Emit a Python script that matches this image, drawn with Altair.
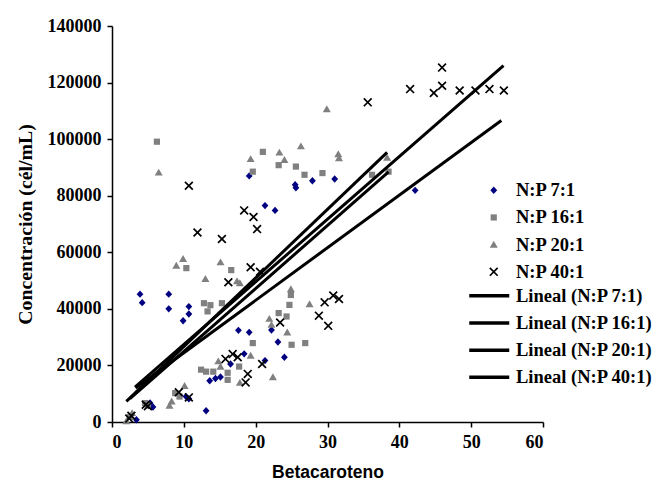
import altair as alt
import pandas as pd

# Series names and marker styling
series_names = ["N:P 7:1", "N:P 16:1", "N:P 20:1", "N:P 40:1"]
series_colors = ["#000080", "#808080", "#808080", "#000000"]

# Marker outlines (custom symbol paths, drawn filled)
diamond_path = "M0,-0.74L0.68,0L0,0.74L-0.68,0Z"
square_path = "M-0.62,-0.62L0.62,-0.62L0.62,0.62L-0.62,0.62Z"
triangle_path = "M0,-0.76L0.8,0.62L-0.8,0.62Z"
cross_path = "M-0.9,-0.66L-0.66,-0.9L0.9,0.66L0.66,0.9ZM0.9,-0.66L-0.66,0.9L-0.9,0.66L0.66,-0.9Z"
series_shapes = [diamond_path, square_path, triangle_path, cross_path]

# Legend sample for the trend lines: a long horizontal stroke
trend_symbol = "M-4,0L4,0"

# N:P 7:1
np7_x = [3.4, 3.9, 4.2, 5.3, 5.7, 7.9, 7.9, 9.9, 10.7, 10.7, 10.3, 10.7, 13.1, 13.6,
         14.4, 15.1, 16.5, 17.6, 18.4, 19.1, 19.1, 21.3, 21.3, 22.2, 22.7, 23.1, 24.0,
         25.5, 25.6, 27.9, 31.0, 42.2]
np7_y = [800, 45200, 42200, 6700, 5300, 45200, 40000, 35800, 40800, 38200, 9000, 8200,
         4000, 14600, 15400, 15900, 20500, 32400, 24100, 31700, 87000, 21700, 76500,
         32500, 74800, 28300, 22900, 83900, 82800, 85300, 85900, 81900]

# N:P 16:1
np16_x = [2.5, 4.6, 5.0, 6.25, 8.8, 9.4, 10.35, 12.4, 12.8, 13.1, 13.3, 13.7, 14.1,
          15.3, 16.1, 16.1, 16.6, 17.7, 19.6, 19.6, 21.0, 23.2, 23.2, 24.3, 24.7, 24.9,
          25.0, 25.6, 26.8, 26.9, 29.3, 36.2, 38.5]
np16_y = [1800, 6700, 5800, 99100, 10200, 9000, 54400, 18500, 42000, 17800, 39100,
          41300, 17800, 42000, 17400, 14900, 53700, 19600, 27900, 88500, 95500, 38500,
          90800, 37300, 41400, 44900, 27300, 90300, 87400, 27900, 88000, 87400, 88500]

# N:P 20:1
np20_x = [2.0, 2.8, 8.0, 8.3, 8.95, 9.9, 10.1, 6.5, 13.0, 14.8, 15.1, 15.1, 17.4, 17.8,
          17.8, 19.3, 19.3, 21.9, 22.2, 22.4, 23.3, 24.0, 24.4, 24.9, 26.3, 27.5, 29.9,
          31.5, 31.6, 38.3]
np20_y = [300, 3200, 5800, 7300, 55300, 57700, 12800, 88200, 50600, 21500, 19600,
          56500, 49800, 49100, 13900, 23500, 93000, 36500, 34400, 15900, 95300, 92700,
          31700, 47000, 97500, 41700, 110600, 94700, 93300, 93500]

# N:P 40:1
np40_x = [2.4, 2.7, 4.7, 5.0, 9.3, 10.7, 10.7, 11.9, 15.3, 15.8, 16.2, 16.8, 17.5, 18.4,
          18.6, 18.9, 19.3, 19.7, 20.2, 20.6, 20.9, 23.4, 28.8, 29.6, 30.1, 30.8, 31.6,
          35.6, 41.5, 44.8, 45.95, 45.95, 48.4, 50.6, 52.55, 54.55]
np40_y = [1200, 2200, 6100, 5600, 10500, 8700, 83500, 67000, 64700, 22300, 49400, 24000,
          22900, 74800, 14000, 17000, 54700, 72500, 68200, 53100, 20500, 35200, 37600,
          42300, 34000, 44700, 43500, 113000, 117700, 116300, 118900, 125300, 117200,
          117200, 117700, 117200]

# Linear trend lines (start and end of each fitted segment)
trend_names = ["Lineal (N:P 7:1)", "Lineal (N:P 16:1)", "Lineal (N:P 20:1)", "Lineal (N:P 40:1)"]
trend_x0 = [3.3, 2.5, 2.0, 3.2]
trend_y0 = [12000, 8250, 7300, 12300]
trend_x1 = [54.2, 38.5, 38.3, 54.5]
trend_y1 = [106600, 88400, 95300, 126000]

x_ticks = [0, 10, 20, 30, 40, 50, 60]
y_ticks = [0, 20000, 40000, 60000, 80000, 100000, 120000, 140000]

rows = []
for name, xs, ys in zip(series_names, [np7_x, np16_x, np20_x, np40_x],
                        [np7_y, np16_y, np20_y, np40_y]):
    rows += [{"serie": name, "x": a, "y": b} for a, b in zip(xs, ys)]
points_df = pd.DataFrame(rows)

trend_rows = []
for name, a0, b0, a1, b1 in zip(trend_names, trend_x0, trend_y0, trend_x1, trend_y1):
    trend_rows.append({"trend": name, "x": a0, "y": b0})
    trend_rows.append({"trend": name, "x": a1, "y": b1})
trend_df = pd.DataFrame(trend_rows)

serif = "Liberation Serif"

x_enc = alt.X("x:Q", scale=alt.Scale(domain=[0, 60], nice=False),
              axis=alt.Axis(values=x_ticks, title="Betacaroteno",
                            titleFont="Liberation Sans", titleFontSize=17.5,
                            titleFontWeight="bold", titlePadding=12, labelPadding=6))
y_enc = alt.Y("y:Q", scale=alt.Scale(domain=[0, 140000], nice=False),
              axis=alt.Axis(values=y_ticks, format="d", title="Concentración (cél/mL)",
                            titleFont=serif, titleFontSize=19.8, titleFontWeight="bold",
                            titlePadding=12, labelPadding=6))

point_legend = alt.Legend(title=None, orient="none", legendX=372.5, legendY=155,
                          labelFont=serif, labelFontSize=18.5, labelFontWeight="bold",
                          labelColor="black", labelOffset=13, rowPadding=8.2,
                          symbolSize=100, symbolStrokeWidth=0, padding=0)

points = alt.Chart(points_df).mark_point(filled=True, opacity=1, size=100, strokeWidth=0).encode(
    x=x_enc,
    y=y_enc,
    color=alt.Color("serie:N", scale=alt.Scale(domain=series_names, range=series_colors),
                    legend=point_legend),
    shape=alt.Shape("serie:N", scale=alt.Scale(domain=series_names, range=series_shapes),
                    legend=point_legend),
)

lines = alt.Chart(trend_df).mark_line(strokeWidth=3).encode(
    x="x:Q",
    y="y:Q",
    detail="trend:N",
    color=alt.Color("trend:N", scale=alt.Scale(domain=trend_names, range=["#000000"] * 4),
                    legend=alt.Legend(title=None, orient="none", legendX=368, legendY=260.5,
                                      labelFont=serif, labelFontSize=18.5,
                                      labelFontWeight="bold", labelColor="black",
                                      labelOffset=17.5, rowPadding=8.2, symbolType=trend_symbol,
                                      symbolSize=100, symbolStrokeWidth=3.5,
                                      symbolStrokeColor="black", padding=0)),
)

chart = alt.layer(points, lines).resolve_scale(color="independent", shape="independent").properties(
    width=431,
    height=396,
    autosize=alt.AutoSizeParams(type="none"),
    padding={"left": 112, "top": 26, "right": 113, "bottom": 65},
).configure_view(stroke=None).configure_axis(
    grid=False,
    domainColor="black",
    domainWidth=1.5,
    tickColor="black",
    tickWidth=1.5,
    tickSize=5,
    labelFont=serif,
    labelFontSize=18,
    labelFontWeight="bold",
    labelColor="black",
    titleColor="black",
)

chart.save("out.html", embed_options={"renderer": "svg", "actions": False})
